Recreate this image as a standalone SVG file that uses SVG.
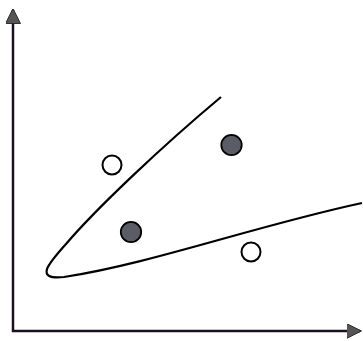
<svg xmlns="http://www.w3.org/2000/svg" width="363" height="341" viewBox="0 0 363 341">
<style>
.axis{stroke:#1a1020;stroke-width:2.5;fill:none}
.curve{stroke:#000;stroke-width:2.2;fill:none}
.open{fill:#fff;stroke:#000;stroke-width:2}
.filled{fill:#5c5c66;stroke:#000;stroke-width:1.8}
</style>
<defs>
<marker id="ah" viewBox="0 0 10 10" refX="9" refY="5" markerWidth="6" markerHeight="6" orient="auto" markerUnits="strokeWidth">
<path d="M0,0 L10,5 L0,10 Z" fill="#555" stroke="#222" stroke-width="0.6"/>
</marker>
</defs>
<g id="axes">
<line class="axis" x1="13" y1="332" x2="13" y2="10" marker-end="url(#ah)"/>
<line class="axis" x1="12" y1="331" x2="360" y2="331" marker-end="url(#ah)"/>
</g>
<g id="connectors">
<path class="curve" d="M221,97 C160,148 95,210 66,244 C48,264 34,280 64,277 C150,264 255,226 362,203"/>
</g>
<g id="open1"><circle class="open" cx="112" cy="165" r="9.5"/></g>
<g id="open2"><circle class="open" cx="251" cy="252" r="9.5"/></g>
<g id="filled1"><circle class="filled" cx="231.5" cy="145" r="10.2"/></g>
<g id="filled2"><circle class="filled" cx="131" cy="232" r="10.2"/></g>
</svg>
